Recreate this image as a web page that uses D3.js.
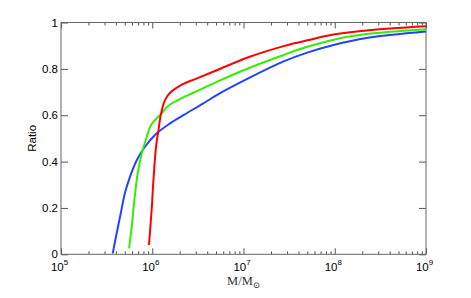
<!DOCTYPE html>
<html>
<head>
<meta charset="utf-8">
<script src="https://cdn.jsdelivr.net/npm/d3@7"></script>
<style>
    body { margin: 0; background: #fff; }
    svg { display: block; }
    .tick text { font-family: "Liberation Sans", Arial, sans-serif; font-size: 11.5px; fill: #000; }
    .domain { display: none; }
    .tick line { stroke: #555; }
</style>
</head>
<body>
<div id="chart"></div>
<script>
const width = 471;
const height = 298;
const margin = { top: 22.5, right: 45, bottom: 43.7, left: 61 };

// curves: mass in solar masses, ratio
const redMass = [9.2e5, 9.9e5, 1.03e6, 1.10e6, 1.17e6, 1.25e6, 1.38e6, 1.57e6, 2.19e6, 2.95e6, 5.09e6, 1.17e7, 2.75e7, 5.37e7, 9.7e7, 2.24e8, 1e9];
const redRatio = [0.04, 0.205, 0.32, 0.464, 0.536, 0.608, 0.665, 0.697, 0.735, 0.756, 0.794, 0.852, 0.898, 0.926, 0.948, 0.966, 0.984];

const greenMass = [5.57e5, 5.96e5, 6.37e5, 6.92e5, 7.67e5, 8.71e5, 9.77e5, 1.27e6, 1.45e6, 1.70e6, 2.19e6, 2.82e6, 5.09e6, 1.17e7, 2.75e7, 4.79e7, 9.7e7, 2.24e8, 1e9];
const greenRatio = [0.026, 0.119, 0.234, 0.349, 0.435, 0.507, 0.56, 0.608, 0.636, 0.655, 0.677, 0.697, 0.744, 0.805, 0.860, 0.893, 0.926, 0.950, 0.971];

const blueMass = [3.69e5, 4.07e5, 4.52e5, 5.01e5, 5.71e5, 6.76e5, 8.32e5, 1.12e6, 1.57e6, 2.19e6, 3.63e6, 5.25e6, 1.17e7, 2.75e7, 5.0e7, 9.7e7, 2.24e8, 1e9];
const blueRatio = [0.004, 0.09, 0.177, 0.263, 0.335, 0.406, 0.464, 0.522, 0.565, 0.60, 0.651, 0.69, 0.762, 0.832, 0.870, 0.903, 0.933, 0.961];

const xMajor = [1e5, 1e6, 1e7, 1e8, 1e9];
const yTicks = [0, 0.2, 0.4, 0.6, 0.8, 1];

const innerW = width - margin.left - margin.right;
const innerH = height - margin.top - margin.bottom;

const svg = d3.select("#chart").append("svg")
    .attr("width", width)
    .attr("height", height);

const g = svg.append("g").attr("transform", `translate(${margin.left},${margin.top})`);

const x = d3.scaleLog().domain([1e5, 1e9]).range([0, innerW]);
const y = d3.scaleLinear().domain([0, 1]).range([innerH, 0]);

// minor ticks 2..9 in each decade
const xMinor = [];
xMajor.slice(0, -1).forEach(d => { for (let k = 2; k < 10; k++) xMinor.push(d * k); });

// bottom axis
g.append("g").attr("transform", `translate(0,${innerH})`)
    .call(d3.axisBottom(x).tickValues(xMinor).tickSize(-3).tickFormat(""));
const xb = g.append("g").attr("class", "x-axis").attr("transform", `translate(0,${innerH})`)
    .call(d3.axisBottom(x).tickValues(xMajor).tickSize(-6).tickPadding(9).tickFormat(() => "10"));
xb.selectAll(".tick text")
    .attr("font-size", "12px")
    .attr("dx", "-2")
    .append("tspan")
    .attr("dy", "-6")
    .attr("font-size", "8px")
    .text(d => Math.round(Math.log10(d)));

// top axis
g.append("g").call(d3.axisTop(x).tickValues(xMinor).tickSize(-3).tickFormat(""));
g.append("g").call(d3.axisTop(x).tickValues(xMajor).tickSize(-6).tickFormat(""));

// left / right axis
g.append("g").call(d3.axisLeft(y).tickValues(yTicks).tickSize(-7).tickPadding(3).tickFormat(d3.format("")));
g.append("g").attr("transform", `translate(${innerW},0)`)
    .call(d3.axisRight(y).tickValues(yTicks).tickSize(-7).tickFormat(""));

// box
g.append("rect")
    .attr("width", innerW)
    .attr("height", innerH)
    .attr("fill", "none")
    .attr("stroke", "#666")
    .attr("stroke-width", 1);

const line = d3.line()
    .x(d => x(d[0]))
    .y(d => y(d[1]))
    .curve(d3.curveCatmullRom.alpha(0.5));

const series = [
    { mass: blueMass, ratio: blueRatio, color: "#2244ff" },
    { mass: greenMass, ratio: greenRatio, color: "#33ee00" },
    { mass: redMass, ratio: redRatio, color: "#ff0000" }
];

series.forEach(s => {
    g.append("path")
        .datum(d3.zip(s.mass, s.ratio))
        .attr("fill", "none")
        .attr("stroke", s.color)
        .attr("stroke-width", 2)
        .attr("d", line);
});

// axis labels
svg.append("text")
    .attr("x", margin.left + innerW / 2)
    .attr("y", 285)
    .attr("text-anchor", "middle")
    .style("font-family", "'Liberation Serif', 'DejaVu Serif', serif")
    .style("font-size", "12.5px")
    .style("fill", "#333")
    .text("M/M")
    .append("tspan")
    .attr("dy", "3")
    .style("font-size", "8.5px")
    .text("\u2299");

svg.append("text")
    .attr("transform", `translate(36,${margin.top + innerH / 2}) rotate(-90)`)
    .attr("text-anchor", "middle")
    .style("font-family", "'Liberation Sans', Arial, sans-serif")
    .style("font-size", "11.5px")
    .text("Ratio");
</script>
</body>
</html>
